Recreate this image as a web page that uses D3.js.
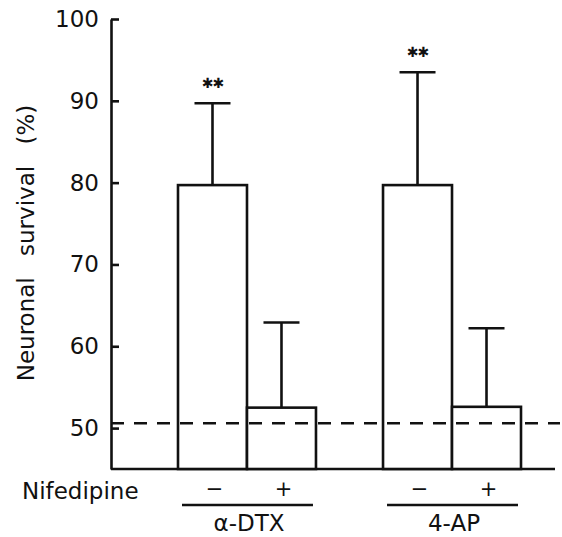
<!DOCTYPE html>
<html>
<head>
<meta charset="utf-8">
<script src="https://cdn.jsdelivr.net/npm/d3@7"></script>
<style>
  html, body { margin: 0; padding: 0; background: #fff; }
  text { font-family: "DejaVu Sans", sans-serif; fill: #111; }
</style>
</head>
<body>
<svg id="chart" width="562" height="537"></svg>
<script>
// ---- data ----
const groups = ["α-DTX", "4-AP"];
const nifedipine = ["−", "+"];
const dtxMeans = [79.7, 52.5];
const dtxErrors = [10.0, 10.4];
const apMeans = [79.7, 52.6];
const apErrors = [13.8, 9.6];
const significance = [["**", ""], ["**", ""]];
const controlLevel = 50.6;
const yTicks = [50, 60, 70, 80, 90, 100];
const yTitle = "Neuronal survival (%)";
const rowLabel = "Nifedipine";

const rows = [];
groups.forEach((g, gi) => {
  const means = gi === 0 ? dtxMeans : apMeans;
  const errs = gi === 0 ? dtxErrors : apErrors;
  nifedipine.forEach((n, ni) => {
    rows.push({ group: g, nif: n, mean: means[ni], err: errs[ni], sig: significance[gi][ni] });
  });
});

const svg = d3.select("#chart");
const ink = "#111";

const y = d3.scaleLinear().domain([45, 100]).range([469, 19]);
const axisX = 111;
const x0 = d3.scaleBand().domain(groups).range([178, 521]).paddingInner(0.327).paddingOuter(0);
const x1 = d3.scaleBand().domain(nifedipine).range([0, x0.bandwidth()]).padding(0);

// y axis
const yAxis = svg.append("g")
  .attr("transform", `translate(${axisX},0)`)
  .call(d3.axisLeft(y).tickValues(yTicks).tickSizeInner(-8).tickSizeOuter(0).tickPadding(12));
yAxis.select(".domain").attr("stroke", ink).attr("stroke-width", 2.6);
yAxis.selectAll(".tick line").attr("stroke", ink).attr("stroke-width", 2.6);
yAxis.selectAll(".tick text").attr("font-size", 23).attr("font-family", "DejaVu Sans, sans-serif").attr("fill", ink);

// x baseline
svg.append("line")
  .attr("x1", axisX).attr("x2", 555)
  .attr("y1", y(45)).attr("y2", y(45))
  .attr("stroke", ink).attr("stroke-width", 2.6);

// bars
const barG = svg.append("g");
barG.selectAll("rect").data(rows).join("rect")
  .attr("x", d => x0(d.group) + x1(d.nif))
  .attr("y", d => y(d.mean))
  .attr("width", x1.bandwidth())
  .attr("height", d => y(45) - y(d.mean))
  .attr("fill", "#fff").attr("stroke", ink).attr("stroke-width", 2.6);

// error bars
const capW = 36;
const cx = d => x0(d.group) + x1(d.nif) + x1.bandwidth() / 2;
barG.selectAll("line.err").data(rows).join("line").attr("class", "err")
  .attr("x1", cx).attr("x2", cx)
  .attr("y1", d => y(d.mean)).attr("y2", d => y(d.mean + d.err))
  .attr("stroke", ink).attr("stroke-width", 2.6);
barG.selectAll("line.cap").data(rows).join("line").attr("class", "cap")
  .attr("x1", d => cx(d) - capW / 2).attr("x2", d => cx(d) + capW / 2)
  .attr("y1", d => y(d.mean + d.err)).attr("y2", d => y(d.mean + d.err))
  .attr("stroke", ink).attr("stroke-width", 2.6);

// significance stars
barG.selectAll("text.sig").data(rows.filter(d => d.sig)).join("text").attr("class", "sig")
  .attr("x", cx).attr("y", d => y(d.mean + d.err) - 20)
  .attr("text-anchor", "middle").attr("dominant-baseline", "central")
  .attr("font-size", 14).attr("letter-spacing", -1)
  .text(d => d.sig.replace(/\*/g, "✱"));

// dashed control line
svg.append("line")
  .attr("x1", axisX).attr("x2", 560)
  .attr("y1", y(controlLevel)).attr("y2", y(controlLevel))
  .attr("stroke", ink).attr("stroke-width", 2.6)
  .attr("stroke-dasharray", "13,10");

// nifedipine row
svg.append("text").attr("x", 22).attr("y", 491)
  .attr("dominant-baseline", "central").attr("font-size", 23).text(rowLabel);
svg.selectAll("text.nif").data(rows).join("text").attr("class", "nif")
  .attr("x", d => cx(d) + 2).attr("y", 489)
  .attr("text-anchor", "middle").attr("dominant-baseline", "central")
  .attr("font-size", 21).text(d => d.nif);

// group underlines and labels
svg.selectAll("line.grp").data(groups).join("line").attr("class", "grp")
  .attr("x1", d => x0(d) + 4).attr("x2", d => x0(d) + x0.bandwidth() - 3)
  .attr("y1", 505).attr("y2", 505)
  .attr("stroke", ink).attr("stroke-width", 2.4);
svg.selectAll("text.grp").data(groups).join("text").attr("class", "grp")
  .attr("x", d => x0(d) + x0.bandwidth() / 2 + 2).attr("y", 523)
  .attr("text-anchor", "middle").attr("dominant-baseline", "central")
  .attr("font-size", 23).text(d => d);

// y title
svg.append("text")
  .attr("transform", `translate(34,243) rotate(-90)`)
  .attr("text-anchor", "middle")
  .attr("font-size", 23)
  .style("word-spacing", "14px")
  .text(yTitle);
</script>
</body>
</html>
